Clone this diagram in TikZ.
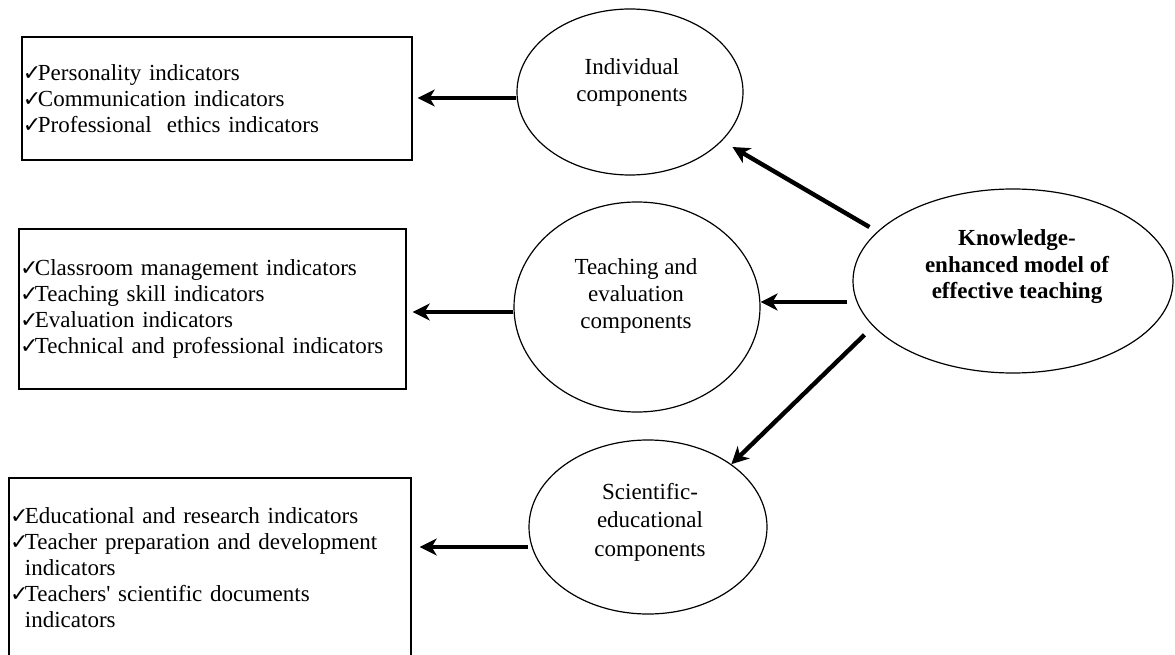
\documentclass[tikz,border=0pt]{standalone}
\usepackage{fontspec}
\setmainfont{Liberation Serif}
\newfontfamily\chkfont{DejaVu Sans}
\usetikzlibrary{shapes.geometric,arrows.meta,calc}
\newcommand{\ck}{\smash{\chkfont\fontsize{22}{22}\selectfont ✓}\kern-3.5pt}
\begin{document}
\begin{tikzpicture}[x=1pt,y=-1pt,
  every node/.style={font=\fontsize{23}{26}\selectfont},
  ibox/.style={draw, line width=1.4pt, inner xsep=1pt, inner ysep=0pt, align=left},
  oval/.style={draw, ellipse, line width=1.2pt, inner sep=0pt},
  otext/.style={align=center, inner sep=0pt, font=\fontsize{23}{27}\selectfont},
  arr/.style={line width=4.4pt, -{Stealth[length=17pt,width=17pt,inset=5pt]}}
]
\useasboundingbox (0,0) rectangle (1175,655);

% indicator boxes
\node[ibox, text width=388pt, minimum height=123pt] (box1) at (217,98.5)
  {\ck Personality indicators\\\ck Communication indicators\\\ck Professional\ \ ethics indicators};
\node[ibox, text width=385pt, minimum height=160pt] (box2) at (212.5,309)
  {\ck Classroom management indicators\\\ck Teaching skill indicators\\\ck Evaluation indicators\\\ck Technical and professional indicators};
\node[ibox, text width=400pt, minimum height=180pt] (box3) at (210,568)
  {\ck Educational and research indicators\\\ck Teacher preparation and development\\\phantom{\ck}indicators\\\ck Teachers\textquotesingle\ scientific documents\\\phantom{\ck}indicators};

% ellipses
\node[oval, minimum width=226pt, minimum height=166pt] (ind) at (630,92) {};
\node[oval, minimum width=246pt, minimum height=210pt] (teach) at (637,307) {};
\node[oval, minimum width=320pt, minimum height=184pt] (know) at (1013,281) {};
\node[oval, minimum width=238pt, minimum height=174pt] (sci) at (648,527) {};

\node[otext] (indt) at (632,82) {Individual\\components};
\node[otext] (teacht) at (636,296) {Teaching and\\evaluation\\components};
\node[otext, font=\fontsize{23}{26.5}\selectfont\bfseries] (knowt) at (1017,267) {Knowledge-\\enhanced model of\\effective teaching};
\node[otext, font=\fontsize{23}{28.5}\selectfont] (scit) at (650,522) {Scientific-\\educational\\components};

% arrows from the central model
\draw[arr, shorten <=9pt, shorten >=12pt] (know.160) -- (ind.-28);
\draw[arr] ([shift={(-5pt,-21pt)}]know.west) -- ([yshift=-21pt]know.west -| teach.east);
\draw[arr, shorten <=12pt] (know.198) -- (sci.37);

% arrows to indicator boxes
\draw[arr, shorten >=5pt] ([yshift=-6pt]ind.west) -- ([yshift=-6pt]ind.west -| box1.east);
\draw[arr, shorten >=6pt] ([yshift=-5pt]teach.west) -- ([yshift=-5pt]teach.west -| box2.east);
\draw[arr, shorten >=8pt] ([yshift=-20pt]sci.west) -- ([yshift=-20pt]sci.west -| box3.east);
\end{tikzpicture}
\end{document}
